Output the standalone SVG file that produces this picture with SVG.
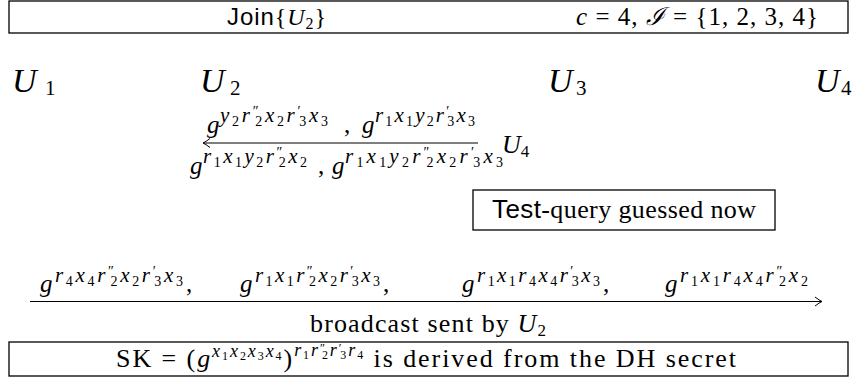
<svg xmlns="http://www.w3.org/2000/svg" width="852" height="380" viewBox="0 0 852 380">
<defs>
<style>
.rm{font-family:"Liberation Serif","Times New Roman","DejaVu Serif",serif;font-style:normal;fill:#000}
.it{font-family:"Liberation Serif","Times New Roman","DejaVu Serif",serif;font-style:italic;fill:#000}
.sf{font-family:"Liberation Sans",Arial,sans-serif;font-style:normal;fill:#000}
.box{fill:#fff;stroke:#000;stroke-width:1.3}
.ln{stroke:#000;stroke-width:1.1;fill:none}
.U{font-size:34px}
.Us{font-size:21px}
.g{font-size:25px}
.e{font-size:21px}
.s{font-size:14px;font-style:normal}
.e2{font-size:18px;font-style:italic}
.s2{font-size:12px;font-style:normal}
</style>
<marker id="ah" viewBox="-8 -6 10 12" markerWidth="10" markerHeight="12" refX="0" refY="0" orient="auto" markerUnits="userSpaceOnUse">
<path d="M-7,-4.5 Q-2.5,-1 0,0 Q-2.5,1 -7,4.5" fill="none" stroke="#000" stroke-width="1"/>
</marker>
</defs>
<rect width="852" height="380" fill="#fff"/>

<g id="header">
<rect class="box" x="9" y="1" width="839" height="32"/>
<text x="227" y="25" class="sf" font-size="24" textLength="99" lengthAdjust="spacing">Join<tspan class="rm">{</tspan><tspan class="it">U</tspan><tspan class="rm" font-size="16" dy="4">2</tspan><tspan class="rm" dy="-4">}</tspan></text>
<text x="576" y="25" class="rm" font-size="25" textLength="242" lengthAdjust="spacing"><tspan class="it">c</tspan> = 4, <tspan class="it">ℐ</tspan> = {1, 2, 3, 4}</text>
</g>

<g id="U1"><text class="it U" x="12" y="92">U</text><text class="rm Us" x="45" y="95">1</text></g>
<g id="U2"><text class="it U" x="200" y="92">U</text><text class="rm Us" x="230" y="95">2</text></g>
<g id="U3"><text class="it U" x="548" y="92">U</text><text class="rm Us" x="576" y="95">3</text></g>
<g id="U4"><text class="it U" x="815" y="92">U</text><text class="rm Us" x="841" y="95">4</text></g>

<g id="connectors">
<path class="ln" d="M478,143 H203" marker-end="url(#ah)"/>
<path class="ln" d="M30,301.5 H822" marker-end="url(#ah)"/>
</g>

<g id="msg-U4">
<text class="it g" x="207" y="133">g</text>
<text class="it e" x="220" y="122" textLength="108" lengthAdjust="spacing">y<tspan class="s" dy="4">2</tspan><tspan dy="-4">r</tspan><tspan class="s" dy="-6">″</tspan><tspan class="s" dx="-6" dy="10">2</tspan><tspan dy="-4">x</tspan><tspan class="s" dy="4">2</tspan><tspan dy="-4">r</tspan><tspan class="s" dy="-6">′</tspan><tspan class="s" dx="-4" dy="10">3</tspan><tspan dy="-4">x</tspan><tspan class="s" dy="4">3</tspan></text>
<text class="rm g" x="344" y="133">,</text>
<text class="it g" x="362" y="133">g</text>
<text class="it e" x="375" y="122" textLength="100" lengthAdjust="spacing">r<tspan class="s" dy="4">1</tspan><tspan dy="-4">x</tspan><tspan class="s" dy="4">1</tspan><tspan dy="-4">y</tspan><tspan class="s" dy="4">2</tspan><tspan dy="-4">r</tspan><tspan class="s" dy="-6">′</tspan><tspan class="s" dx="-4" dy="10">3</tspan><tspan dy="-4">x</tspan><tspan class="s" dy="4">3</tspan></text>

<text class="it g" x="190" y="174">g</text>
<text class="it e" x="203" y="163" textLength="104" lengthAdjust="spacing">r<tspan class="s" dy="4">1</tspan><tspan dy="-4">x</tspan><tspan class="s" dy="4">1</tspan><tspan dy="-4">y</tspan><tspan class="s" dy="4">2</tspan><tspan dy="-4">r</tspan><tspan class="s" dy="-6">″</tspan><tspan class="s" dx="-6" dy="10">2</tspan><tspan dy="-4">x</tspan><tspan class="s" dy="4">2</tspan></text>
<text class="rm g" x="318" y="174">,</text>
<text class="it g" x="332" y="174">g</text>
<text class="it e" x="345" y="163" textLength="158" lengthAdjust="spacing">r<tspan class="s" dy="4">1</tspan><tspan dy="-4">x</tspan><tspan class="s" dy="4">1</tspan><tspan dy="-4">y</tspan><tspan class="s" dy="4">2</tspan><tspan dy="-4">r</tspan><tspan class="s" dy="-6">″</tspan><tspan class="s" dx="-6" dy="10">2</tspan><tspan dy="-4">x</tspan><tspan class="s" dy="4">2</tspan><tspan dy="-4">r</tspan><tspan class="s" dy="-6">′</tspan><tspan class="s" dx="-4" dy="10">3</tspan><tspan dy="-4">x</tspan><tspan class="s" dy="4">3</tspan></text>

<text class="it" font-size="26" x="502" y="153">U<tspan class="rm" font-size="17" dy="4">4</tspan></text>
</g>

<g id="test-query">
<rect class="box" x="473" y="190" width="302" height="40"/>
<text x="624" y="218" class="rm" font-size="26" text-anchor="middle" textLength="264" lengthAdjust="spacing"><tspan class="sf">Test</tspan>-query guessed now</text>
</g>

<g id="broadcast">
<text class="it g" x="40" y="292">g</text>
<text class="it e" x="55" y="282" textLength="128" lengthAdjust="spacing">r<tspan class="s" dy="4">4</tspan><tspan dy="-4">x</tspan><tspan class="s" dy="4">4</tspan><tspan dy="-4">r</tspan><tspan class="s" dy="-6">″</tspan><tspan class="s" dx="-6" dy="10">2</tspan><tspan dy="-4">x</tspan><tspan class="s" dy="4">2</tspan><tspan dy="-4">r</tspan><tspan class="s" dy="-6">′</tspan><tspan class="s" dx="-4" dy="10">3</tspan><tspan dy="-4">x</tspan><tspan class="s" dy="4">3</tspan></text>
<text class="rm g" x="186" y="292">,</text>

<text class="it g" x="240" y="292">g</text>
<text class="it e" x="255" y="282" textLength="125" lengthAdjust="spacing">r<tspan class="s" dy="4">1</tspan><tspan dy="-4">x</tspan><tspan class="s" dy="4">1</tspan><tspan dy="-4">r</tspan><tspan class="s" dy="-6">″</tspan><tspan class="s" dx="-6" dy="10">2</tspan><tspan dy="-4">x</tspan><tspan class="s" dy="4">2</tspan><tspan dy="-4">r</tspan><tspan class="s" dy="-6">′</tspan><tspan class="s" dx="-4" dy="10">3</tspan><tspan dy="-4">x</tspan><tspan class="s" dy="4">3</tspan></text>
<text class="rm g" x="383" y="292">,</text>

<text class="it g" x="462" y="292">g</text>
<text class="it e" x="477" y="282" textLength="123" lengthAdjust="spacing">r<tspan class="s" dy="4">1</tspan><tspan dy="-4">x</tspan><tspan class="s" dy="4">1</tspan><tspan dy="-4">r</tspan><tspan class="s" dy="4">4</tspan><tspan dy="-4">x</tspan><tspan class="s" dy="4">4</tspan><tspan dy="-4">r</tspan><tspan class="s" dy="-6">′</tspan><tspan class="s" dx="-4" dy="10">3</tspan><tspan dy="-4">x</tspan><tspan class="s" dy="4">3</tspan></text>
<text class="rm g" x="603" y="292">,</text>

<text class="it g" x="665" y="292">g</text>
<text class="it e" x="680" y="282" textLength="128" lengthAdjust="spacing">r<tspan class="s" dy="4">1</tspan><tspan dy="-4">x</tspan><tspan class="s" dy="4">1</tspan><tspan dy="-4">r</tspan><tspan class="s" dy="4">4</tspan><tspan dy="-4">x</tspan><tspan class="s" dy="4">4</tspan><tspan dy="-4">r</tspan><tspan class="s" dy="-6">″</tspan><tspan class="s" dx="-6" dy="10">2</tspan><tspan dy="-4">x</tspan><tspan class="s" dy="4">2</tspan></text>

<text x="310" y="332" class="rm" font-size="26" textLength="236" lengthAdjust="spacing">broadcast sent by <tspan class="it">U</tspan><tspan font-size="17" dy="4">2</tspan></text>
</g>

<g id="session-key">
<rect class="box" x="9" y="342" width="839" height="34"/>
<text x="116" y="367" class="rm" font-size="26" textLength="620" lengthAdjust="spacing">SK = (<tspan class="it">g</tspan><tspan class="e2" dy="-10">x</tspan><tspan class="s2" dy="3">1</tspan><tspan class="e2" dy="-3">x</tspan><tspan class="s2" dy="3">2</tspan><tspan class="e2" dy="-3">x</tspan><tspan class="s2" dy="3">3</tspan><tspan class="e2" dy="-3">x</tspan><tspan class="s2" dy="3">4</tspan><tspan dy="7">)</tspan><tspan class="e2" dy="-11">r</tspan><tspan class="s2" dy="3">1</tspan><tspan class="e2" dy="-3">r</tspan><tspan class="s2" dy="-4">″</tspan><tspan class="s2" dx="-5" dy="7">2</tspan><tspan class="e2" dy="-3">r</tspan><tspan class="s2" dy="-4">′</tspan><tspan class="s2" dx="-3" dy="7">3</tspan><tspan class="e2" dy="-3">r</tspan><tspan class="s2" dy="3">4</tspan><tspan dy="8"> is derived from the DH secret</tspan></text>
</g>
</svg>
